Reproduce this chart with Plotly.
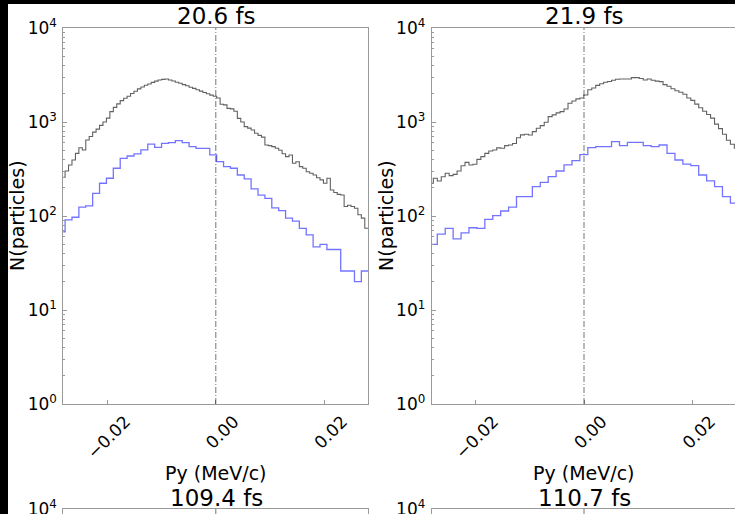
import plotly.graph_objects as go

W, H = 735, 514

# ---- Py histograms (counts per bin) ----
# 20.6 fs : all particles (fine bins) and selected particles (coarse bins)
all_206 = [258, 301, 349, 394, 464, 533, 504, 644, 700, 780, 840, 920, 1000, 1100,
           1290, 1430, 1560, 1690, 1790, 1880, 2010, 2120, 2250, 2360, 2460, 2540,
           2640, 2720, 2799, 2840, 2866, 2800, 2730, 2650, 2580, 2500, 2430, 2340,
           2280, 2200, 2130, 2060, 2000, 1930, 1880,
           1800, 1542, 1520, 1397, 1380, 1300, 1094, 1000, 892, 860, 822, 758, 720,
           690, 569, 560, 547, 525, 500, 460, 428, 446, 364, 378, 335, 322, 296, 285,
           273, 255, 242, 223, 252, 189, 178, 170, 167, 126, 130, 126, 121, 103, 95, 74]
sel_206 = [68, 91, 97, 124, 128, 174, 223, 252, 322, 411, 435, 457, 504, 583, 538,
           593, 603, 633, 603, 547, 525, 525, 446,
           378, 335, 322, 273, 248, 194, 167, 154, 122, 114, 95, 88, 74, 63, 47, 50,
           44, 44, 26, 26, 20, 26]

# 21.9 fs
all_219 = [223, 252, 236, 262, 285, 269, 277, 301, 343, 372, 349, 355, 400, 428, 464,
           491, 504, 530, 525, 560, 569, 590, 680, 730, 740, 727, 789, 857, 915, 993,
           1140, 1190, 1250, 1289, 1375, 1581, 1673, 1760, 1800, 1938,
           2200, 2300, 2450, 2550, 2643, 2700, 2780, 2850, 2866, 2866, 2866, 2963,
           2963, 2900, 2799, 2866, 2780, 2720, 2686, 2500, 2400, 2260, 2150, 2069,
           1970, 1800, 1700, 1550, 1420, 1300, 1200, 1100, 950, 850, 740, 640, 580, 525]
sel_219 = [50, 64, 74, 57, 66, 75, 74, 92, 101, 113, 124, 161, 161, 205, 228, 262,
           301, 349, 388, 450,
           533, 547, 547, 618, 560, 608, 608, 560, 547, 569, 464, 394, 357, 343, 273,
           236, 205, 161, 137]

# histogram binning: (first edge, bin width) in MeV/c
bins_all_206 = (-0.028415, 0.000635)
bins_sel_206 = (-0.02905, 0.00127)
bins_all_219 = (-0.0285, 0.00073)
bins_sel_219 = (-0.0285, 0.00146)

titles_top = ["20.6 fs", "21.9 fs"]
titles_bottom = ["109.4 fs", "110.7 fs"]
x_ticks = [-0.02, 0.0, 0.02]
x_ticktext = ["\u22120.02", "0.00", "0.02"]
y_ticks = [1, 10, 100, 1000, 10000]
y_ticktext = ["10<sup>0</sup>", "10<sup>1</sup>", "10<sup>2</sup>",
              "10<sup>3</sup>", "10<sup>4</sup>"]
minor_y = [m * 10 ** e for e in range(4) for m in range(2, 10)]

FONT = "DejaVu Sans"
SPINE = "#9a9a9a"
COL_ALL = "rgba(0,0,0,0.62)"
COL_SEL = "rgba(0,0,255,0.55)"


def step_trace(counts, binning, color, xa, ya, width):
    start, bw = binning
    edges = [start + i * bw for i in range(len(counts) + 1)]
    return go.Scatter(x=edges, y=list(counts) + [counts[-1]], mode="lines",
                      line=dict(shape="hv", color=color, width=width),
                      xaxis=xa, yaxis=ya, showlegend=False, hoverinfo="skip")


def px(x):
    return x / W


def py(y):
    return 1 - y / H


fig = go.Figure()
fig.add_trace(step_trace(all_206, bins_all_206, COL_ALL, "x", "y", 1.1))
fig.add_trace(step_trace(sel_206, bins_sel_206, COL_SEL, "x", "y", 1.3))
fig.add_trace(step_trace(all_219, bins_all_219, COL_ALL, "x2", "y2", 1.1))
fig.add_trace(step_trace(sel_219, bins_sel_219, COL_SEL, "x2", "y2", 1.3))
# lower row panels (only their top edge is on the page)
fig.add_trace(go.Scatter(x=[0], y=[1], mode="lines", xaxis="x3", yaxis="y3",
                         showlegend=False, hoverinfo="skip"))
fig.add_trace(go.Scatter(x=[0], y=[1], mode="lines", xaxis="x4", yaxis="y4",
                         showlegend=False, hoverinfo="skip"))

left_dom = [px(63.3), px(368.3)]
right_dom = [px(431.7), 1.0]
left_rng = [-0.02811, 0.02811]
right_rng = [-0.02807, 0.02783]
top_dom = [py(404), py(28)]
bot_dom = [0.0, py(509)]

xcommon = dict(showgrid=False, zeroline=False, showline=True, linecolor=SPINE,
               linewidth=1, ticks="inside", ticklen=4, tickcolor=SPINE,
               tickmode="array", tickvals=x_ticks, ticktext=x_ticktext,
               tickangle=-45, tickfont=dict(family=FONT, size=17, color="black"),
               ticklabelshift=18, ticklabelstandoff=0)
ycommon = dict(type="log", showgrid=False, zeroline=False, showline=True,
               linecolor=SPINE, linewidth=1, ticks="inside", ticklen=4,
               tickcolor=SPINE, tickmode="array", tickvals=y_ticks,
               ticktext=y_ticktext, ticklabelstandoff=2,
               tickfont=dict(family=FONT, size=17, color="black"),
               minor=dict(ticks="inside", ticklen=2, tickcolor=SPINE,
                          tickmode="array", tickvals=minor_y))

fig.update_layout(
    width=W, height=H,
    margin=dict(l=0, r=0, t=0, b=0, pad=0, autoexpand=False),
    paper_bgcolor="white", plot_bgcolor="white",
    xaxis=dict(xcommon, domain=left_dom, range=left_rng, anchor="y", mirror=True),
    yaxis=dict(ycommon, domain=top_dom, range=[0, 4], anchor="x", mirror=True),
    xaxis2=dict(xcommon, domain=right_dom, range=right_rng, anchor="y2", mirror=True),
    yaxis2=dict(ycommon, domain=top_dom, range=[0, 4], anchor="x2", mirror=False),
    xaxis3=dict(domain=left_dom, range=left_rng, anchor="y3", side="top",
                showline=True, linecolor=SPINE, showticklabels=False,
                showgrid=False, zeroline=False),
    yaxis3=dict(ycommon, domain=bot_dom, range=[3.95, 4.0005], anchor="x3",
                mirror=True, tickvals=[10000], ticktext=[y_ticktext[-1]],
                minor=dict(ticks=""), ticklabeloverflow="allow"),
    xaxis4=dict(domain=right_dom, range=right_rng, anchor="y4", side="top",
                showline=True, linecolor=SPINE, showticklabels=False,
                showgrid=False, zeroline=False),
    yaxis4=dict(ycommon, domain=bot_dom, range=[3.95, 4.0005], anchor="x4",
                mirror=False, tickvals=[10000], ticktext=[y_ticktext[-1]],
                minor=dict(ticks=""), ticklabeloverflow="allow"),
)

# p_y = 0 markers
for xa, ya in [("x", "y"), ("x2", "y2"), ("x3", "y3"), ("x4", "y4")]:
    fig.add_shape(type="line", xref=xa, yref=ya + " domain", x0=0, x1=0, y0=0, y1=1,
                  line=dict(color="rgba(0,0,0,0.55)", width=1, dash="6px,2px,1px,2px"))

# black frame strips along the left and top edges
fig.add_shape(type="rect", xref="paper", yref="paper", x0=0, x1=px(8), y0=0, y1=1,
              fillcolor="black", line_width=0, layer="above")
fig.add_shape(type="rect", xref="paper", yref="paper", x0=0, x1=1, y0=py(4), y1=1,
              fillcolor="black", line_width=0, layer="above")


def label(text, x, y, size, angle=0):
    fig.add_annotation(text=text, x=px(x), y=py(y), xref="paper", yref="paper",
                       showarrow=False, xanchor="center", yanchor="middle",
                       textangle=angle, font=dict(family=FONT, size=size, color="black"))


label(titles_top[0], 216, 16, 23)
label(titles_top[1], 584, 16, 23)
label(titles_bottom[0], 216, 498, 23)
label(titles_bottom[1], 584, 498, 23)
label("Py (MeV/c)", 216, 473, 19)
label("Py (MeV/c)", 584, 473, 19)
label("N(particles)", 17, 216, 19, -90)
label("N(particles)", 386, 216, 19, -90)

fig.write_html("out.html")
